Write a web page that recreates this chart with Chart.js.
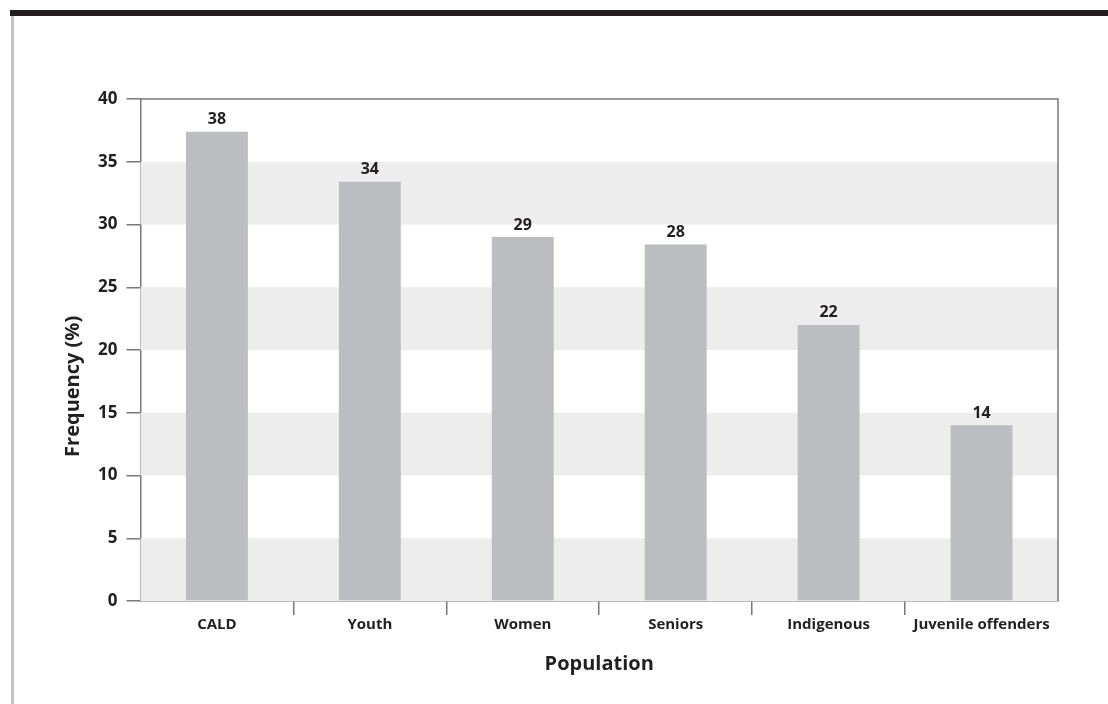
<!DOCTYPE html>
<html>
<head>
<meta charset="utf-8">
<title>Frequency by population</title>
<script src="https://cdn.jsdelivr.net/npm/chart.js"></script>
<style>
  html, body { margin: 0; padding: 0; background: #fff; }
  body { width: 1108px; height: 704px; position: relative; overflow: hidden; }
  .topbar { position: absolute; left: 10px; right: 0; top: 10px; height: 6px; background: #231f20; }
  .sideline { position: absolute; left: 11px; top: 16px; bottom: 0; width: 3px; background: #c4c4c4; }
  #chart-container { position: absolute; left: 0; top: 0; width: 1108px; height: 704px; }
</style>
</head>
<body>
<div class="topbar"></div>
<div class="sideline"></div>
<div id="chart-container">
  <canvas id="freqChart" width="1108" height="704"></canvas>
</div>

<script>
  // data
  const categories = ['CALD', 'Youth', 'Women', 'Seniors', 'Indigenous', 'Juvenile offenders'];
  const frequency = [37.4, 33.4, 29, 28.4, 22, 14];       // bar heights as drawn
  const valueLabels = ['38', '34', '29', '28', '22', '14']; // numbers printed above bars
  const yTicks = [0, 5, 10, 15, 20, 25, 30, 35, 40];

  const FONT = '"Open Sans", "Liberation Sans", sans-serif';
  const TEXT = '#231f20';
  const AXIS = '#77787b';

  // alternating light bands behind the bars + frame round the plot
  const bandsPlugin = {
    id: 'bands',
    beforeDatasetsDraw(chart) {
      const { ctx, chartArea, scales } = chart;
      const y = scales.y;
      ctx.save();
      ctx.fillStyle = '#ededed';
      for (let i = 0; i < yTicks.length - 1; i += 2) {
        const top = y.getPixelForValue(yTicks[i + 1]);
        const bottom = y.getPixelForValue(yTicks[i]);
        ctx.fillRect(chartArea.left, top, chartArea.right - chartArea.left, bottom - top);
      }
      ctx.restore();
    },
    afterDraw(chart) {
      const { ctx, chartArea } = chart;
      ctx.save();
      ctx.strokeStyle = AXIS;
      ctx.lineWidth = 1.5;
      ctx.beginPath();
      ctx.moveTo(chartArea.left, chartArea.top);
      ctx.lineTo(chartArea.right, chartArea.top);
      ctx.lineTo(chartArea.right, chartArea.bottom);
      ctx.stroke();
      ctx.restore();
    }
  };

  // numbers above each bar
  const valueLabelPlugin = {
    id: 'valueLabels',
    afterDatasetsDraw(chart) {
      const { ctx } = chart;
      const meta = chart.getDatasetMeta(0);
      ctx.save();
      ctx.font = 'bold 16px ' + FONT;
      ctx.fillStyle = TEXT;
      ctx.textAlign = 'center';
      ctx.textBaseline = 'bottom';
      meta.data.forEach((bar, i) => {
        ctx.fillText(valueLabels[i], bar.x, bar.y - 4);
      });
      ctx.restore();
    }
  };

  const ctx = document.getElementById('freqChart').getContext('2d');
  const freqChart = new Chart(ctx, {
    type: 'bar',
    data: {
      labels: categories,
      datasets: [{
        label: 'Frequency (%)',
        data: frequency,
        backgroundColor: '#bcbdc1',
        borderWidth: 0,
        barPercentage: 0.405,
        categoryPercentage: 1
      }]
    },
    options: {
      responsive: false,
      animation: false,
      layout: { padding: { top: 99, right: 50, left: 61, bottom: 28 } },
      plugins: {
        legend: { display: false },
        tooltip: { enabled: false }
      },
      scales: {
        x: {
          offset: true,
          grid: {
            offset: true,
            drawOnChartArea: false,
            tickLength: 14,
            lineWidth: 1.5,
            // only the inner separators have a tick
            color: c => (c.type !== 'tick' || c.index === 0) ? 'rgba(0,0,0,0)' : AXIS
          },
          border: { color: AXIS, width: 1.5 },
          ticks: {
            color: TEXT,
            font: { family: FONT, size: 15, weight: 'bold' },
            padding: 1,
            maxRotation: 0
          },
          title: {
            display: true,
            text: 'Population',
            color: TEXT,
            font: { family: FONT, size: 20, weight: 'bold' },
            padding: { top: 17, bottom: 0 }
          }
        },
        y: {
          min: 0,
          max: 40,
          afterBuildTicks: axis => { axis.ticks = yTicks.map(v => ({ value: v })); },
          grid: {
            drawOnChartArea: false,
            tickLength: 14,
            lineWidth: 1.5,
            color: AXIS
          },
          border: { color: AXIS, width: 1.5 },
          ticks: {
            color: TEXT,
            font: { family: FONT, size: 17, weight: 'bold' },
            padding: 9
          },
          title: {
            display: true,
            // trailing spaces push the text a little below the axis centre, as in the original
            text: 'Frequency (%)' + '\u00a0'.repeat(14),
            color: TEXT,
            font: { family: FONT, size: 20, weight: 'bold' },
            padding: { top: 0, bottom: 4 }
          }
        }
      }
    },
    plugins: [bandsPlugin, valueLabelPlugin]
  });
</script>
</body>
</html>
